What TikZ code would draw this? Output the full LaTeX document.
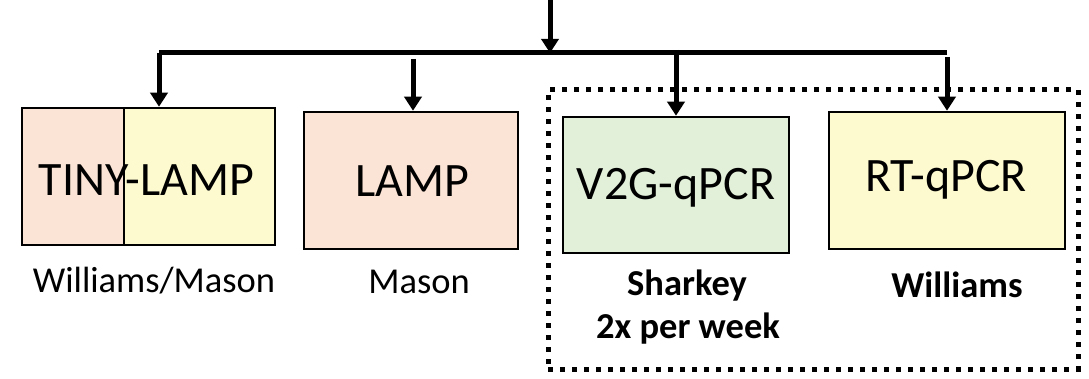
\documentclass[tikz,border=0pt]{standalone}
\usepackage{fontspec}
\setmainfont{Carlito}
\usetikzlibrary{arrows.meta,calc}
\definecolor{pinkfill}{HTML}{FBE4D5}
\definecolor{yellowfill}{HTML}{FEFAD0}
\definecolor{greenfill}{HTML}{E2EFD9}
\tikzset{
  box/.style={draw=black, line width=2.5pt, inner sep=0pt, rectangle},
  conn/.style={line width=5pt},
  arr/.style={conn, -{Triangle[width=17pt,length=14pt]}},
  biglabel/.style={anchor=base, inner sep=0pt, font=\fontsize{48}{56}\selectfont},
  sublabel/.style={anchor=base, inner sep=0pt, font=\fontsize{36.5}{44}\selectfont},
  boldlabel/.style={anchor=base, inner sep=0pt, font=\fontsize{36.5}{44}\selectfont\bfseries},
  group/.style={draw=black, line width=5pt, dash pattern=on 5pt off 7pt, inner sep=0pt, rectangle}
}
\begin{document}
\begin{tikzpicture}[x=1pt,y=-1pt]
\useasboundingbox (0,0) rectangle (1089,379);
% boxes
\node[box, fill=pinkfill, minimum width=102pt, minimum height=137pt] (tinyL) at (73,176.5) {};
\node[box, fill=yellowfill, minimum width=151pt, minimum height=137pt] (tinyR) at (199.5,176.5) {};
\node[box, fill=pinkfill, minimum width=214pt, minimum height=137pt] (lamp) at (411,180.5) {};
\node[box, fill=greenfill, minimum width=226pt, minimum height=136pt] (v2g) at (676,185) {};
\node[box, fill=yellowfill, minimum width=236pt, minimum height=137pt] (rt) at (947,180.5) {};
% dotted group
\node[group, minimum width=530pt, minimum height=279pt] (grp) at (813,229.5) {};
% labels
\node[biglabel] (tinyT) at (146.5,196) {TINY-LAMP};
\node[biglabel] (lampT) at (412,197) {LAMP};
\node[biglabel] (v2gT) at (676,200) {V2G-qPCR};
\node[biglabel] (rtT) at (946,192) {RT-qPCR};
\node[sublabel] (wm) at (154,292) {Williams/Mason};
\node[sublabel] (mason) at (419,293) {Mason};
\node[boldlabel] (sharkey) at (687,295) {Sharkey};
\node[boldlabel] (freq) at (688,338) {2x per week};
\node[boldlabel] (will) at (957,298) {Williams};
% connectors
\coordinate (top) at (550,0);
\coordinate (hub) at (550,53);
\coordinate (bl) at (159,53);
\coordinate (br) at (947,53);
\coordinate (lampS) at (413,59);
\coordinate (v2gS) at (676,50);
\coordinate (rtS) at (947,57);
\draw[arr] (top) -- (hub);
\draw[conn] (br) -- (bl);
\draw[arr] (bl) -- (bl |- tinyR.north);
\draw[arr] (lampS) -- (lampS |- lamp.north);
\draw[arr] (v2gS) -- (v2g.north);
\draw[arr] (rtS) -- (rt.north);
\end{tikzpicture}
\end{document}
